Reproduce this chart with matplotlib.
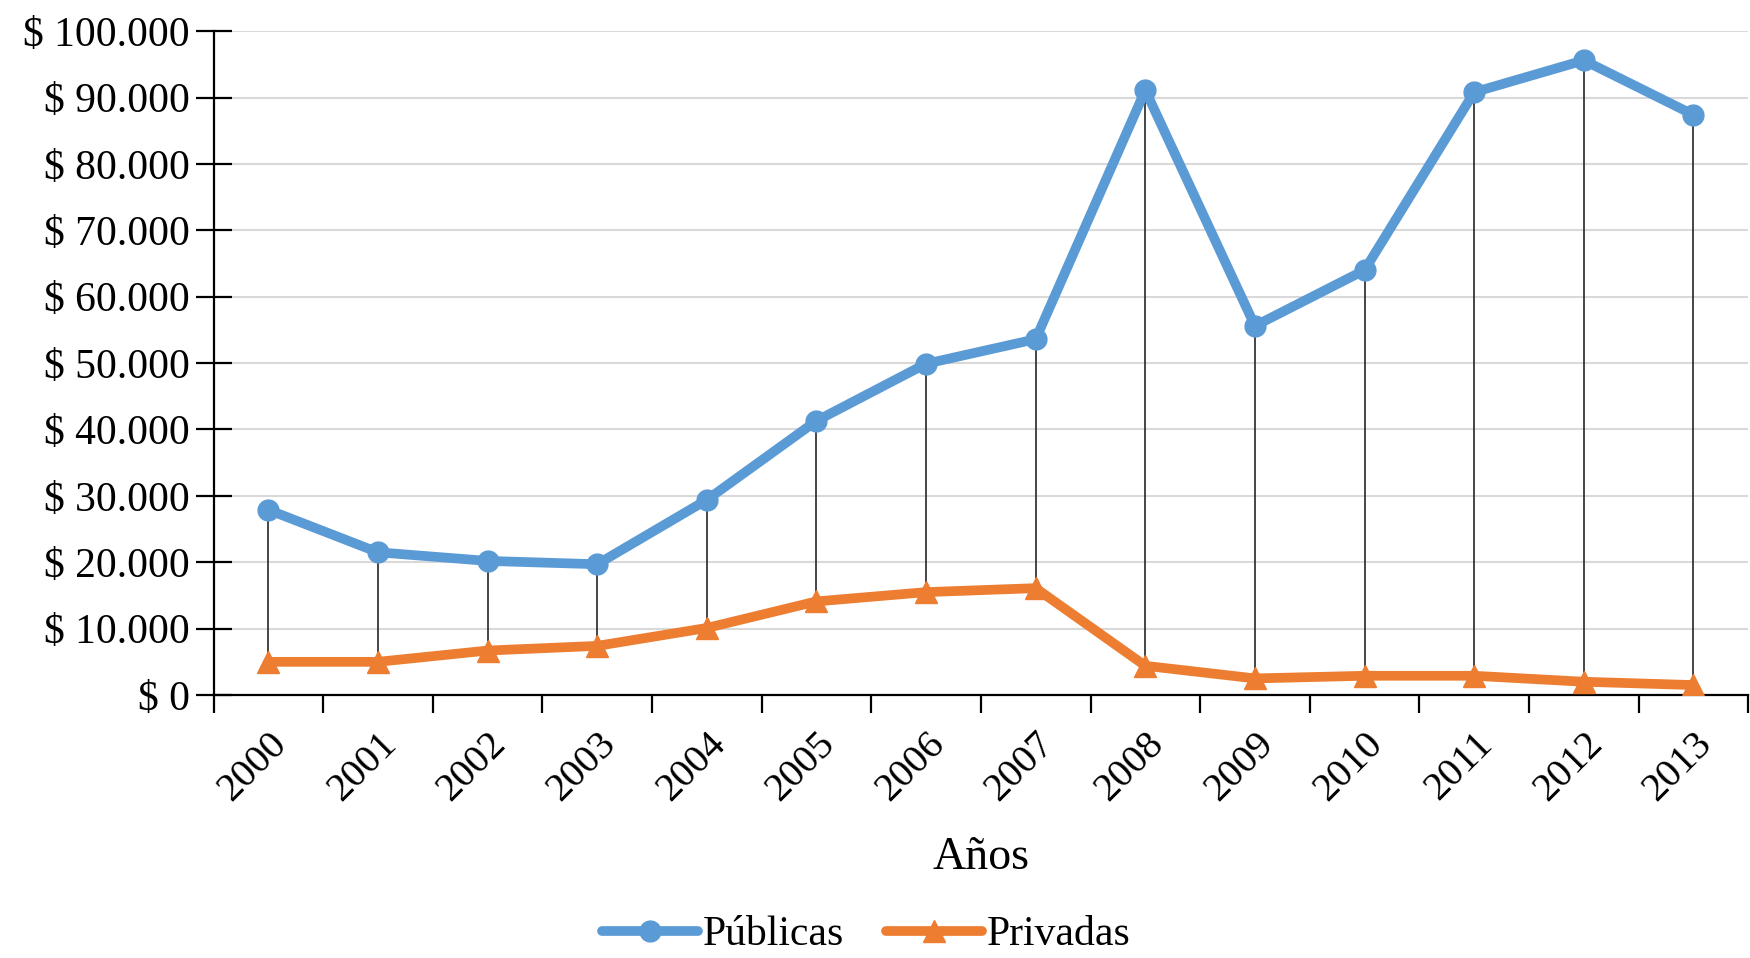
import numpy as np
import matplotlib
matplotlib.use("Agg")
import matplotlib.pyplot as plt
from matplotlib.ticker import FuncFormatter

plt.rcParams['font.family'] = ['Liberation Serif', 'DejaVu Serif']

years = ['2000', '2001', '2002', '2003', '2004', '2005', '2006',
         '2007', '2008', '2009', '2010', '2011', '2012', '2013']
publicas = [27900, 21500, 20200, 19700, 29400, 41300, 49900,
            53600, 91100, 55600, 64000, 90800, 95600, 87400]
privadas = [5000, 5000, 6700, 7400, 10100, 14100, 15500,
            16100, 4400, 2500, 2900, 2900, 2000, 1500]

blue = '#5B9BD5'
orange = '#ED7D31'

fig = plt.figure(figsize=(17.5, 9.58), dpi=100)
ax = fig.add_axes([0.122, 0.2745, 0.877, 0.693])

x = np.arange(len(years))

# grid
ax.set_axisbelow(True)
ax.yaxis.grid(True, color='#D9D9D9', linewidth=1.5)

# high-low lines
ax.vlines(x, privadas, publicas, colors='#262626', linewidth=1.2, zorder=2)

ax.plot(x, publicas, color=blue, linewidth=7, marker='o', markersize=15,
        label='Públicas', zorder=3, solid_capstyle='round')
ax.plot(x, privadas, color=orange, linewidth=7, marker='^', markersize=16,
        label='Privadas', zorder=3, solid_capstyle='round')

ax.set_xlim(-0.5, len(years) - 0.5)
ax.set_ylim(0, 100000)
ax.set_yticks(np.arange(0, 100001, 10000))
ax.yaxis.set_major_formatter(FuncFormatter(
    lambda v, p: '$ ' + f'{int(v):,}'.replace(',', '.')))

ax.set_xticks(x)
ax.set_xticklabels(years, rotation=45, ha='right', va='top',
                   rotation_mode='anchor')
ax.set_xticks(np.arange(-0.5, len(years), 1), minor=True)
ax.tick_params(axis='x', which='major', length=0, labelsize=29, pad=22)
ax.tick_params(axis='x', which='minor', length=13, width=1.6, direction='out')
ax.tick_params(axis='y', length=26, width=1.6, direction='inout',
               labelsize=30, pad=4)

for s in ['top', 'right']:
    ax.spines[s].set_visible(False)
ax.spines['left'].set_linewidth(1.6)
ax.spines['bottom'].set_linewidth(1.6)

ax.set_xlabel('Años', fontsize=33, labelpad=20)

fig.legend(loc='center', bbox_to_anchor=(0.495, 0.024), ncol=2, frameon=False,
           fontsize=30, handlelength=2.3, handletextpad=0.12,
           columnspacing=1.0, borderpad=0.2)

fig.savefig('out.png', dpi=100)
